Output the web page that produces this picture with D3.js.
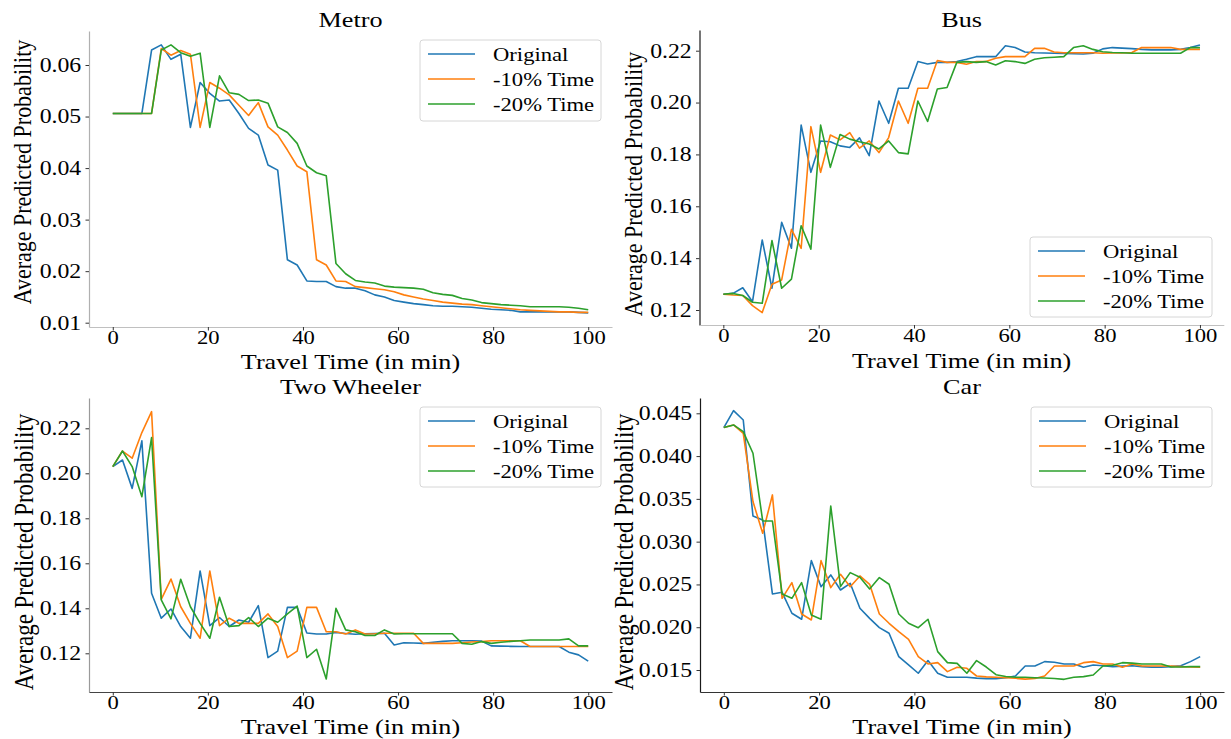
<!DOCTYPE html>
<html>
<head>
<meta charset="utf-8">
<script src="https://cdn.jsdelivr.net/npm/d3@7"></script>
<style>
  html, body { margin: 0; padding: 0; background: #fff; }
  svg { display: block; }
</style>
</head>
<body>
<svg id="chart" width="1231" height="739"></svg>
<script>
// ---------- data ----------
const travelTime = [0,2.04,4.08,6.12,8.16,10.2,12.24,14.29,16.33,18.37,20.41,22.45,24.49,26.53,28.57,30.61,32.65,34.69,36.73,38.78,40.82,42.86,44.9,46.94,48.98,51.02,53.06,55.1,57.14,59.18,61.22,63.27,65.31,67.35,69.39,71.43,73.47,75.51,77.55,79.59,81.63,83.67,85.71,87.76,89.8,91.84,93.88,95.92,97.96,100];

const seriesNames = ["Original", "-10% Time", "-20% Time"];
const seriesColors = ["#1f77b4", "#ff7f0e", "#2ca02c"];
const xTicks = [0, 20, 40, 60, 80, 100];

const metroOriginal = [0.0506,0.0506,0.0506,0.0506,0.0629,0.0639,0.0611,0.0621,0.0479,0.0566,0.0545,0.0530,0.0532,0.0506,0.0477,0.0464,0.0406,0.0396,0.0222,0.0212,0.0181,0.0180,0.0180,0.0170,0.0167,0.0167,0.0162,0.0154,0.0150,0.0143,0.0140,0.0137,0.0135,0.0133,0.0132,0.0132,0.0131,0.0130,0.0128,0.0126,0.0125,0.0124,0.0121,0.0121,0.0121,0.0121,0.0121,0.0121,0.0120,0.0119];
const metroMinus10 = [0.0506,0.0506,0.0506,0.0506,0.0506,0.0632,0.0619,0.0628,0.0621,0.0479,0.0566,0.0555,0.0542,0.0522,0.0502,0.0527,0.0480,0.0464,0.0435,0.0404,0.0393,0.0222,0.0212,0.0181,0.0180,0.0170,0.0168,0.0166,0.0164,0.0160,0.0154,0.0150,0.0146,0.0143,0.0140,0.0138,0.0136,0.0135,0.0133,0.0131,0.0129,0.0127,0.0125,0.0124,0.0123,0.0122,0.0121,0.0121,0.0120,0.0120];
const metroMinus20 = [0.0506,0.0506,0.0506,0.0506,0.0506,0.0629,0.0639,0.0624,0.0617,0.0623,0.0479,0.0579,0.0546,0.0543,0.0531,0.0532,0.0526,0.0480,0.0469,0.0448,0.0404,0.0391,0.0385,0.0215,0.0195,0.0182,0.0179,0.0177,0.0171,0.0169,0.0168,0.0167,0.0165,0.0158,0.0155,0.0153,0.0147,0.0144,0.0139,0.0137,0.0135,0.0134,0.0133,0.0131,0.0131,0.0131,0.0131,0.0130,0.0128,0.0125];

const busOriginal = [0.1261,0.1264,0.1286,0.1232,0.1470,0.1284,0.1538,0.1438,0.1913,0.1731,0.1852,0.1849,0.1833,0.1827,0.1864,0.1795,0.2006,0.1920,0.2055,0.2055,0.2158,0.2149,0.2155,0.2155,0.2158,0.2167,0.2177,0.2177,0.2177,0.2219,0.2212,0.2195,0.2192,0.2191,0.2190,0.2189,0.2188,0.2187,0.2190,0.2207,0.2212,0.2210,0.2208,0.2205,0.2203,0.2203,0.2203,0.2205,0.2212,0.2222];
const busMinus10 = [0.1261,0.1258,0.1256,0.1217,0.1190,0.1299,0.1316,0.1511,0.1438,0.1907,0.1731,0.1875,0.1856,0.1884,0.1824,0.1852,0.1807,0.1865,0.2006,0.1920,0.2055,0.2055,0.2162,0.2155,0.2155,0.2148,0.2158,0.2158,0.2171,0.2177,0.2177,0.2177,0.2209,0.2209,0.2195,0.2192,0.2192,0.2192,0.2192,0.2190,0.2191,0.2191,0.2193,0.2212,0.2212,0.2212,0.2212,0.2205,0.2205,0.2205];
const busMinus20 = [0.1261,0.1264,0.1256,0.1230,0.1226,0.1468,0.1284,0.1319,0.1525,0.1435,0.1913,0.1750,0.1877,0.1859,0.1849,0.1840,0.1821,0.1852,0.1807,0.1802,0.2006,0.1927,0.2052,0.2058,0.2155,0.2158,0.2155,0.2158,0.2145,0.2161,0.2158,0.2151,0.2167,0.2173,0.2175,0.2177,0.2212,0.2219,0.2205,0.2196,0.2193,0.2192,0.2190,0.2190,0.2190,0.2190,0.2190,0.2190,0.2212,0.2212];

const twOriginal = [0.2030,0.2059,0.1933,0.2144,0.1467,0.1356,0.1397,0.1319,0.1267,0.1566,0.1323,0.1359,0.1319,0.1348,0.1338,0.1412,0.1181,0.1210,0.1404,0.1404,0.1290,0.1286,0.1286,0.1293,0.1288,0.1285,0.1287,0.1288,0.1289,0.1237,0.1247,0.1246,0.1244,0.1249,0.1253,0.1256,0.1256,0.1256,0.1254,0.1233,0.1232,0.1231,0.1230,0.1230,0.1230,0.1230,0.1230,0.1205,0.1193,0.1165];
const twMinus10 = [0.2030,0.2099,0.2067,0.2181,0.2274,0.1440,0.1530,0.1407,0.1333,0.1267,0.1566,0.1323,0.1356,0.1333,0.1333,0.1333,0.1375,0.1319,0.1181,0.1210,0.1404,0.1404,0.1296,0.1296,0.1286,0.1304,0.1286,0.1287,0.1289,0.1289,0.1289,0.1289,0.1244,0.1244,0.1244,0.1244,0.1247,0.1250,0.1252,0.1256,0.1256,0.1256,0.1256,0.1230,0.1230,0.1230,0.1230,0.1230,0.1230,0.1230];
const twMinus20 = [0.2030,0.2099,0.2030,0.1896,0.2159,0.1437,0.1353,0.1529,0.1407,0.1333,0.1267,0.1449,0.1319,0.1323,0.1359,0.1319,0.1356,0.1338,0.1375,0.1410,0.1181,0.1218,0.1086,0.1400,0.1304,0.1296,0.1279,0.1279,0.1304,0.1286,0.1287,0.1287,0.1287,0.1287,0.1287,0.1287,0.1244,0.1240,0.1252,0.1244,0.1249,0.1253,0.1256,0.1259,0.1259,0.1259,0.1259,0.1264,0.1233,0.1233];

const carOriginal = [0.04333,0.04531,0.04422,0.03300,0.03253,0.02389,0.02408,0.02163,0.02093,0.02778,0.02474,0.02611,0.02435,0.02513,0.02221,0.02104,0.01995,0.01929,0.01656,0.01559,0.01462,0.01610,0.01462,0.01415,0.01415,0.01415,0.01405,0.01399,0.01399,0.01410,0.01430,0.01547,0.01547,0.01598,0.01590,0.01571,0.01571,0.01532,0.01559,0.01550,0.01539,0.01545,0.01550,0.01539,0.01532,0.01532,0.01539,0.01550,0.01598,0.01656];
const carMinus10 = [0.04333,0.04364,0.04266,0.03468,0.03098,0.03546,0.02338,0.02521,0.02155,0.02085,0.02778,0.02463,0.02618,0.02474,0.02599,0.02502,0.02155,0.02046,0.01949,0.01859,0.01656,0.01571,0.01586,0.01481,0.01532,0.01520,0.01430,0.01420,0.01415,0.01410,0.01403,0.01393,0.01400,0.01430,0.01547,0.01547,0.01547,0.01586,0.01598,0.01571,0.01571,0.01532,0.01571,0.01547,0.01547,0.01547,0.01545,0.01539,0.01535,0.01532];
const carMinus20 = [0.04333,0.04364,0.04286,0.04033,0.03242,0.03242,0.02389,0.02338,0.02521,0.02143,0.02093,0.03417,0.02474,0.02638,0.02583,0.02447,0.02580,0.02502,0.02155,0.02046,0.01995,0.02093,0.01715,0.01586,0.01578,0.01462,0.01610,0.01535,0.01445,0.01425,0.01415,0.01415,0.01410,0.01407,0.01400,0.01391,0.01415,0.01423,0.01442,0.01547,0.01555,0.01586,0.01580,0.01571,0.01571,0.01571,0.01535,0.01535,0.01539,0.01539];

const metroTicks = [0.01, 0.02, 0.03, 0.04, 0.05, 0.06];
const busTicks = [0.12, 0.14, 0.16, 0.18, 0.20, 0.22];
const twTicks = [0.12, 0.14, 0.16, 0.18, 0.20, 0.22];
const carTicks = [0.015, 0.020, 0.025, 0.030, 0.035, 0.040, 0.045];

// ---------- layout ----------
const FONT = "'Liberation Serif', 'Times New Roman', Times, serif";
const SX = 1.19; // glyphs in the reference are horizontally widened

const panels = [
  { title: "Metro", series: [metroOriginal, metroMinus10, metroMinus20], yTicks: metroTicks, fmt: d3.format(".2f"),
    yDomain: [0.009166, 0.066597], box: { l: 89, r: 612, t: 31, b: 327 },
    legend: { x: 420, y: 40, w: 181, h: 81 }, ylab: { x: 22, y: 172, size: 22 },
    leftSpine: "#b0b0b0", bottomSpine: "#c0c0c0", titleY: 27, xlabY: 369 },
  { title: "Bus", series: [busOriginal, busMinus10, busMinus20], yTicks: busTicks, fmt: d3.format(".2f"),
    yDomain: [0.11422, 0.22798], box: { l: 699.5, r: 1223.8, t: 30, b: 325 },
    legend: { x: 1030, y: 237, w: 182, h: 80 }, ylab: { x: 633, y: 184, size: 22 },
    leftSpine: "#1a1a1a", bottomSpine: "#c0c0c0", titleY: 27, xlabY: 368 },
  { title: "Two Wheeler", series: [twOriginal, twMinus10, twMinus20], yTicks: twTicks, fmt: d3.format(".2f"),
    yDomain: [0.10280, 0.23347], box: { l: 89, r: 612, t: 398, b: 692 },
    legend: { x: 420, y: 407, w: 181, h: 80 }, ylab: { x: 23, y: 552, size: 23 },
    leftSpine: "#9a9a9a", bottomSpine: "#444", titleY: 394, xlabY: 734 },
  { title: "Car", series: [carOriginal, carMinus10, carMinus20], yTicks: carTicks, fmt: d3.format(".3f"),
    yDomain: [0.012430, 0.046788], box: { l: 700, r: 1224, t: 398, b: 692 },
    legend: { x: 1031, y: 407, w: 181, h: 80 }, ylab: { x: 623, y: 552, size: 23 },
    leftSpine: "#1a1a1a", bottomSpine: "#333", titleY: 394, xlabY: 734 }
];

const svg = d3.select("#chart");
svg.append("rect").attr("width", 1231).attr("height", 739).attr("fill", "#fff");

function stretchedText(g, txt, x, y, size, anchor) {
  return g.append("text")
    .attr("transform", `translate(${x},${y}) scale(${SX},1)`)
    .attr("text-anchor", anchor || "middle")
    .style("font-family", FONT)
    .style("font-size", size + "px")
    .attr("fill", "#000")
    .text(txt);
}

panels.forEach(p => {
  const g = svg.append("g");
  const x = d3.scaleLinear().domain([-5, 105]).range([p.box.l, p.box.r]);
  const y = d3.scaleLinear().domain(p.yDomain).range([p.box.b, p.box.t]);

  // lines
  const line = d3.line().x((d, i) => x(travelTime[i])).y(d => y(d));
  p.series.forEach((s, k) => {
    g.append("path").datum(s)
      .attr("d", line)
      .attr("fill", "none")
      .attr("stroke", seriesColors[k])
      .attr("stroke-width", 1.6)
      .attr("stroke-linejoin", "round");
  });

  // axes
  const yAxis = d3.axisLeft(y).tickValues(p.yTicks).tickFormat(p.fmt).tickSize(3.5).tickPadding(3).tickSizeOuter(0);
  const xAxis = d3.axisBottom(x).tickValues(xTicks).tickFormat(d3.format("d")).tickSize(3.5).tickPadding(0.5).tickSizeOuter(0);

  const ya = g.append("g").attr("transform", `translate(${p.box.l},0)`).call(yAxis);
  ya.select(".domain").attr("stroke", p.leftSpine).attr("stroke-width", 1.2);
  ya.selectAll(".tick line").attr("stroke", "#333");
  ya.selectAll(".tick text")
    .style("font-family", FONT).style("font-size", "20px").attr("fill", "#000")
    .attr("transform", `scale(${SX},1)`);

  const xa = g.append("g").attr("transform", `translate(0,${p.box.b})`).call(xAxis);
  xa.select(".domain").attr("stroke", p.bottomSpine).attr("stroke-width", 1.2);
  xa.selectAll(".tick line").attr("stroke", "#333");
  xa.selectAll(".tick text")
    .style("font-family", FONT).style("font-size", "19px").attr("fill", "#000")
    .attr("transform", `scale(${SX},1)`);

  // title & axis labels
  const cx = (p.box.l + p.box.r) / 2;
  stretchedText(g, p.title, cx, p.titleY, 22);
  stretchedText(g, "Travel Time (in min)", cx, p.xlabY, 22);
  g.append("text")
    .attr("transform", `translate(${p.ylab.x},${p.ylab.y}) scale(${SX},1) rotate(-90)`)
    .attr("text-anchor", "middle")
    .attr("dominant-baseline", "central")
    .style("font-family", FONT)
    .style("font-size", p.ylab.size + "px")
    .attr("fill", "#000")
    .text("Average Predicted Probability");

  // legend
  const L = p.legend;
  const lg = g.append("g");
  lg.append("rect")
    .attr("x", L.x).attr("y", L.y).attr("width", L.w).attr("height", L.h)
    .attr("rx", 3).attr("ry", 3)
    .attr("fill", "rgba(255,255,255,0.85)")
    .attr("stroke", "#d6d6d6").attr("stroke-width", 1);
  seriesNames.forEach((name, k) => {
    const ry = L.y + 14 + k * 25;
    lg.append("line")
      .attr("x1", L.x + 8).attr("x2", L.x + 55)
      .attr("y1", ry).attr("y2", ry)
      .attr("stroke", seriesColors[k]).attr("stroke-width", 1.6);
    stretchedText(lg, name, L.x + 73, ry + 7, 19, "start");
  });
});
</script>
</body>
</html>
